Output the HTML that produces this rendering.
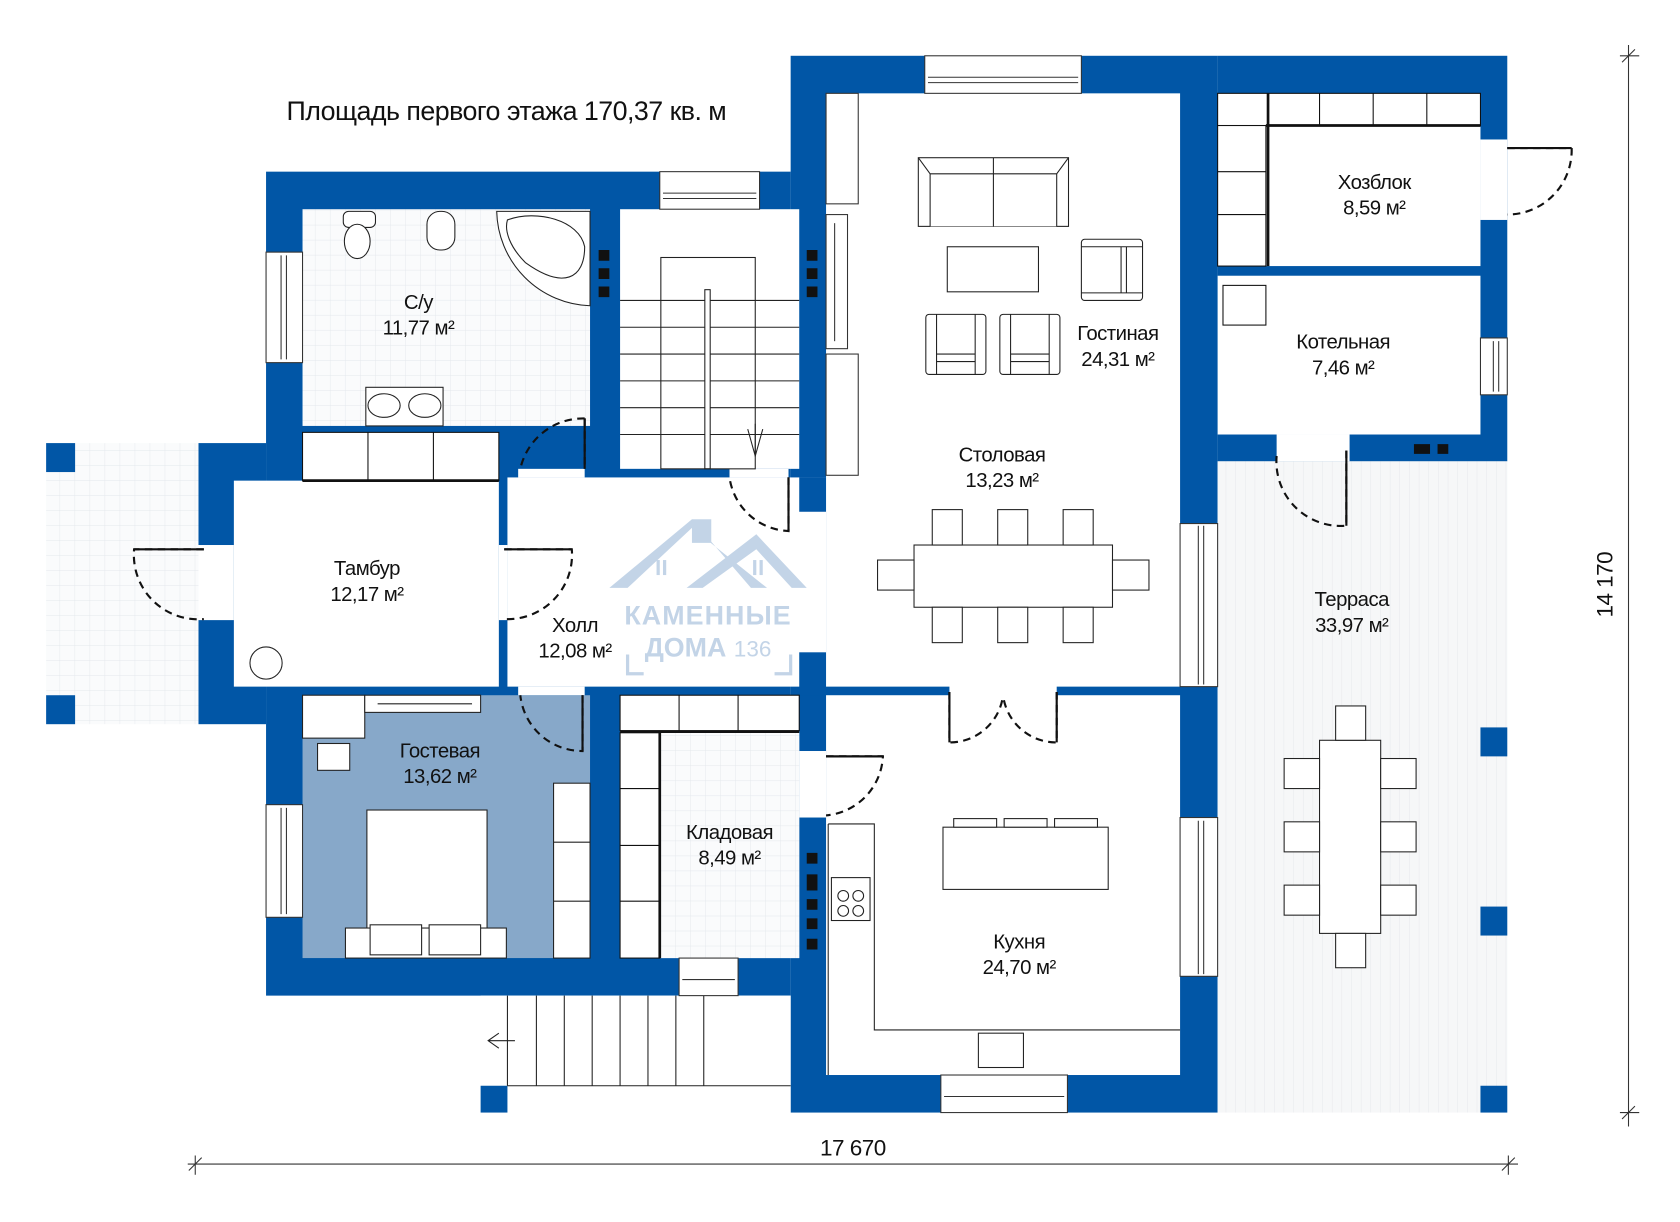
<!DOCTYPE html>
<html><head><meta charset="utf-8"><style>
html,body{margin:0;padding:0;background:#fff;}
svg{display:block;}
text{font-family:"Liberation Sans Narrow","Liberation Sans",sans-serif;fill:#111;}
</style></head><body>
<svg width="1680" height="1222" viewBox="0 0 1566 1139" preserveAspectRatio="none" xmlns="http://www.w3.org/2000/svg">
<defs>
<pattern id="tile" width="14" height="14" patternUnits="userSpaceOnUse"><rect width="14" height="14" fill="#fafbfc"/><path d="M14 0V14M0 14H14" stroke="#e3e7ec" stroke-width="0.8"/></pattern>
<pattern id="plank" width="9" height="20" patternUnits="userSpaceOnUse"><rect width="9" height="20" fill="#f6f7f8"/><path d="M9 0V20" stroke="#e4e6ea" stroke-width="0.8"/></pattern>
</defs>
<rect width="1566" height="1139" fill="#fff"/>
<g fill="#0156a6">
<rect x="248" y="160" width="489" height="768"/>
<rect x="185" y="413" width="63" height="262"/>
<rect x="737" y="52" width="398" height="985"/>
<rect x="1135" y="52" width="270" height="378"/>
</g>
<rect x="43" y="413" width="142" height="262" fill="url(#tile)"/>
<rect x="43" y="413" width="27" height="27" fill="#0156a6"/><rect x="43" y="648" width="27" height="27" fill="#0156a6"/>
<rect x="1135" y="430" width="270" height="607" fill="url(#plank)"/>
<g fill="#0156a6"><rect x="1380" y="678" width="25" height="27"/><rect x="1380" y="845" width="25" height="27"/><rect x="1380" y="1012" width="25" height="25"/></g>
<rect x="282" y="195" width="268" height="202" fill="url(#tile)"/>
<rect x="218" y="448" width="247" height="192" fill="#fff"/>
<rect x="282" y="403" width="183" height="45" fill="#fff" stroke="#111" stroke-width="1"/>
<path d="M343 403V448M404 403V448" stroke="#111"/><path d="M282 448H465" stroke="#111" stroke-width="2.5"/>
<rect x="473" y="445" width="297" height="195" fill="#fff"/>
<rect x="578" y="195" width="167" height="242" fill="#fff"/>
<rect x="745" y="445" width="25" height="32" fill="#0156a6"/>
<rect x="745" y="608" width="25" height="40" fill="#0156a6"/>
<rect x="770" y="87" width="330" height="553" fill="#fff"/>
<rect x="770" y="648" width="330" height="354" fill="#fff"/>
<rect x="885" y="638" width="100" height="12" fill="#fff"/>
<rect x="282" y="648" width="268" height="245" fill="#87a8c9"/>
<rect x="578" y="648" width="167" height="245" fill="#fff"/>
<rect x="615" y="683" width="130" height="210" fill="url(#tile)"/>
<rect x="1135" y="87" width="245" height="161" fill="#fff"/>
<rect x="1135" y="257" width="245" height="148" fill="#fff"/>
<rect x="448" y="928" width="289" height="109" fill="#fff"/>
<rect x="448" y="1012" width="25" height="25" fill="#0156a6"/>
<g stroke="#222" stroke-width="1" fill="none">
<path d="M473 1012H737M473 928V1012"/>
<path d="M500 928V1012M526 928V1012M552 928V1012M578 928V1012M604 928V1012M630 928V1012M656 928V1012"/>
<path d="M480 970H455M465 963L455 970L465 977"/>
</g>
<g fill="#fff" stroke="#333" stroke-width="1">
<rect x="615" y="160" width="93" height="35"/><rect x="862" y="52" width="146" height="35"/>
<rect x="248" y="235" width="34" height="103"/><rect x="248" y="750" width="34" height="105"/>
<rect x="633" y="893" width="55" height="35"/><rect x="877" y="1002" width="118" height="35"/>
<rect x="1100" y="488" width="35" height="152"/><rect x="1100" y="762" width="35" height="148"/>
<rect x="1380" y="315" width="25" height="53"/>
</g>
<g stroke="#333" stroke-width="1" fill="none">
<path d="M618 180H705M618 185H705M865 72H1005M865 77H1005M262 238V335M267 238V335M262 753V852M267 753V852M636 913H685M880 1022H992M1117 490V638M1122 490V638M1117 765V908M1122 765V908M1392 318V365M1397 318V365"/>
</g>
<g fill="#fff"><rect x="1380" y="130" width="25" height="75"/><rect x="1190" y="405" width="68" height="25"/><rect x="185" y="508" width="33" height="70"/><rect x="465" y="508" width="8" height="70"/><rect x="483" y="437" width="62" height="8"/><rect x="680" y="437" width="55" height="8"/><rect x="483" y="640" width="62" height="8"/><rect x="745" y="700" width="25" height="62"/></g>
<g stroke="#222" stroke-width="1" fill="none">
<rect x="616" y="240" width="88" height="197"/>
<rect x="657" y="270" width="5" height="167"/>
<path d="M578 280H657M578 305H657M578 330H657M578 355H657M578 380H657M578 405H657M662 280H745M662 305H745M662 330H745M662 355H745M662 380H745M662 405H745"/>
<path d="M704 395V425M697 400L704 425L711 400"/>
</g>
<g fill="#111"><path d="M558 233h10v10h-10z M558 250h10v10h-10z M558 267h10v10h-10z M752 233h10v10h-10z M752 250h10v10h-10z M752 267h10v10h-10z M752 795h10v10h-10z M752 815h10v15h-10z M752 838h10v10h-10z M752 856h10v10h-10z M752 875h10v10h-10z M1318 414h15v9h-15z M1340 414h10v9h-10z"/></g>
<g stroke="#333" stroke-width="1" fill="#fff"><rect x="770" y="87" width="30" height="103"/><rect x="770" y="200" width="20" height="125"/><rect x="770" y="330" width="30" height="113"/></g>
<path d="M778 208V318" stroke="#333"/>
<g stroke="#111" stroke-width="1" fill="#fff">
<rect x="1135" y="87" width="245" height="30"/><rect x="1135" y="117" width="45" height="131"/>
<path d="M1230 87V117M1280 87V117M1330 87V117M1135 160H1180M1135 200H1180" fill="none"/>
<rect x="1140" y="266" width="40" height="37"/>
</g>
<path d="M1182 87V248M1180 117H1380" stroke="#111" stroke-width="2.5"/>
<g stroke="#111" stroke-width="2" fill="none" stroke-dasharray="7,5">
<path d="M1405 138H1465A60 60 0 0 1 1405 200"/>
<path d="M1255 420V490A60 60 0 0 1 1190 425"/>
<path d="M545 390V437M545 390A60 60 0 0 0 485 437"/>
<path d="M735 445V495A58 58 0 0 1 680 445"/>
<path d="M190 512H125A60 60 0 0 0 190 577"/>
<path d="M470 512H533A60 60 0 0 1 470 577"/>
<path d="M543 648V700A58 58 0 0 1 485 648"/>
<path d="M770 705H823A58 58 0 0 1 770 760"/>
<path d="M885 645V692A50 50 0 0 0 935 648M985 645V692A50 50 0 0 1 935 648"/>
</g>
<g stroke="#111" stroke-width="2" fill="none"><path d="M1405 138H1465M1255 420V490M545 390V437M735 445V495M190 512H125M470 512H533M543 648V700M770 705H823M885 645V692M985 645V692"/></g>
<g stroke="#222" stroke-width="1" fill="#fff">
<rect x="320" y="197" width="30" height="15" rx="5"/><ellipse cx="333" cy="225" rx="12" ry="16"/>
<rect x="398" y="197" width="26" height="36" rx="12"/>
<path d="M463 197H550V285A90 90 0 0 1 463 197Z"/><path d="M473 205C500 195 540 205 545 230C545 260 525 270 490 245C475 230 470 215 473 205Z"/>
<rect x="341" y="361" width="72" height="36"/><ellipse cx="358" cy="378" rx="15" ry="11"/><ellipse cx="396" cy="378" rx="15" ry="11"/>
</g>
<circle cx="248" cy="618" r="15" fill="#fff" stroke="#222"/>
<g stroke="#222" stroke-width="1" fill="#fff">
<rect x="856" y="147" width="140" height="64"/><path d="M867 211V162H985V211M856 147L867 162M996 147L985 162M926 147V211"/>
<rect x="883" y="230" width="85" height="42"/>
<rect x="1008" y="223" width="57" height="57" rx="3"/><path d="M1008 230H1065M1008 273H1065M1045 230V273M1050 230V273"/>
<rect x="863" y="293" width="56" height="56" rx="3"/><rect x="932" y="293" width="56" height="56" rx="3"/>
<path d="M873 293V349M909 293V349M873 330H909M873 337H909M942 293V349M978 293V349M942 330H978M942 337H978"/>
</g>
<g stroke="#222" stroke-width="1" fill="#fff">
<rect x="852" y="508" width="185" height="58"/>
<rect x="869" y="475" width="28" height="33"/><rect x="930" y="475" width="28" height="33"/><rect x="991" y="475" width="28" height="33"/>
<rect x="869" y="566" width="28" height="33"/><rect x="930" y="566" width="28" height="33"/><rect x="991" y="566" width="28" height="33"/>
<rect x="818" y="522" width="34" height="28"/><rect x="1037" y="522" width="34" height="28"/>
</g>
<g stroke="#222" stroke-width="1" fill="none">
<path d="M772 768H815V960H1100M772 768V1002"/>
<rect x="879" y="771" width="154" height="58" fill="#fff"/>
<rect x="889" y="763" width="40" height="8" fill="#fff"/><rect x="936" y="763" width="40" height="8" fill="#fff"/><rect x="983" y="763" width="40" height="8" fill="#fff"/>
<rect x="775" y="818" width="36" height="40" fill="#fff"/><circle cx="786" cy="835" r="5"/><circle cx="800" cy="835" r="5"/><circle cx="786" cy="849" r="5"/><circle cx="800" cy="849" r="5"/>
<rect x="912" y="963" width="42" height="32" fill="#fff"/>
</g>
<g stroke="#222" stroke-width="1" fill="#fff">
<rect x="1230" y="690" width="57" height="180"/>
<rect x="1245" y="658" width="28" height="32"/><rect x="1245" y="870" width="28" height="32"/>
<rect x="1197" y="707" width="33" height="28"/><rect x="1197" y="766" width="33" height="28"/><rect x="1197" y="825" width="33" height="28"/>
<rect x="1287" y="707" width="33" height="28"/><rect x="1287" y="766" width="33" height="28"/><rect x="1287" y="825" width="33" height="28"/>
</g>
<g stroke="#222" stroke-width="1" fill="#fff">
<rect x="282" y="648" width="58" height="40"/><rect x="340" y="648" width="108" height="16"/><path d="M352 656H440"/>
<rect x="296" y="693" width="30" height="25"/>
<rect x="342" y="755" width="112" height="110"/>
<rect x="322" y="865" width="150" height="28"/><rect x="345" y="862" width="48" height="28"/><rect x="400" y="862" width="48" height="28"/>
<rect x="516" y="730" width="34" height="163"/><path d="M516 785H550M516 840H550"/>
</g>
<g stroke="#111" stroke-width="1" fill="#fff">
<rect x="578" y="648" width="167" height="33"/><path d="M633 648V681M688 648V681"/>
<rect x="578" y="683" width="37" height="210"/><path d="M578 735H615M578 788H615M578 840H615"/>
</g>
<path d="M615 683V893M578 682H745" stroke="#111" stroke-width="2.5"/>
<g fill="#c3d4e7">
<path d="M568 548L645 484L700 548L715 548L645 492L585 548Z"/>
<path d="M640 548L705 498L752 548L738 548L705 512L655 548Z"/>
<rect x="645" y="484" width="18" height="22"/>
<rect x="612" y="522" width="3" height="14"/><rect x="618" y="522" width="3" height="14"/><rect x="702" y="522" width="3" height="14"/><rect x="708" y="522" width="3" height="14"/>
</g>
<text x="660" y="582" text-anchor="middle" style="font-family:'Liberation Sans',sans-serif;font-weight:bold;font-size:25px;fill:#c3d4e7;letter-spacing:1px">КАМЕННЫЕ</text>
<text x="660" y="612" text-anchor="middle" style="font-family:'Liberation Sans',sans-serif;font-weight:bold;font-size:25px;fill:#c3d4e7">ДОМА <tspan font-size="21" font-weight="normal">136</tspan></text>
<path d="M585 610V628H600M737 610V628H722" stroke="#c3d4e7" stroke-width="3" fill="none"/>
<g font-size="19" text-anchor="middle" style="letter-spacing:-0.5px">
<text x="472" y="112" font-size="25">Площадь первого этажа 170,37 кв. м</text>
<text x="390" y="288">С/у</text><text x="390" y="312">11,77 м²</text>
<text x="342" y="536">Тамбур</text><text x="342" y="560">12,17 м²</text>
<text x="536" y="589">Холл</text><text x="536" y="613">12,08 м²</text>
<text x="410" y="706">Гостевая</text><text x="410" y="730">13,62 м²</text>
<text x="680" y="782">Кладовая</text><text x="680" y="806">8,49 м²</text>
<text x="1042" y="317">Гостиная</text><text x="1042" y="341">24,31 м²</text>
<text x="934" y="430">Столовая</text><text x="934" y="454">13,23 м²</text>
<text x="1281" y="176">Хозблок</text><text x="1281" y="200">8,59 м²</text>
<text x="1252" y="325">Котельная</text><text x="1252" y="349">7,46 м²</text>
<text x="1260" y="565">Терраса</text><text x="1260" y="589">33,97 м²</text>
<text x="950" y="884">Кухня</text><text x="950" y="908">24,70 м²</text>
<text x="795" y="1077" font-size="21">17 670</text>
<text transform="translate(1503,545) rotate(-90)" font-size="21">14 170</text>
</g>
<g stroke="#333" stroke-width="1" fill="none">
<path d="M175 1085H1415M182 1077V1095M1406 1077V1095M176 1091L188 1079M1400 1091L1412 1079"/>
<path d="M1518 42V1050M1510 52H1528M1510 1037H1528M1512 58L1524 46M1512 1043L1524 1031"/>
</g>
</svg>
</body></html>
